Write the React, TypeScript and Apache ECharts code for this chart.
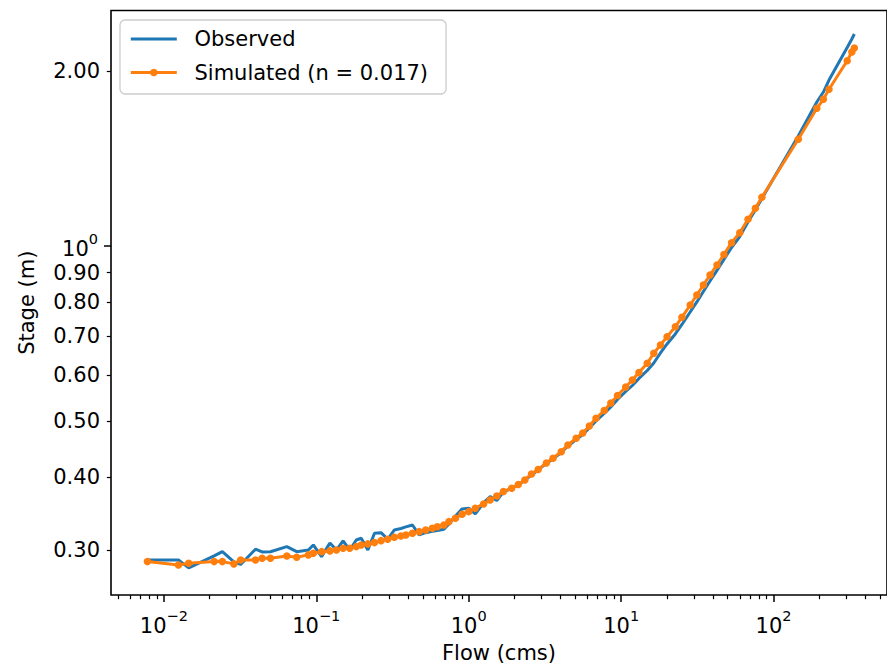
import React, { useEffect, useRef } from 'react';
import * as echarts from 'echarts';

// Flow (cms) — shared by observed and simulated rating curves
const flow = [
  0.0078, 0.01246, 0.01455, 0.02138, 0.0242, 0.0288, 0.0319, 0.0399, 0.0441, 0.05,
  0.0641, 0.0744, 0.0887, 0.0956, 0.1083, 0.1228, 0.1356, 0.1499, 0.1657, 0.1829,
  0.1971, 0.2179, 0.2409, 0.266, 0.2941, 0.3252, 0.3589, 0.3868, 0.4277, 0.4728,
  0.522, 0.5771, 0.6219, 0.6877, 0.7411, 0.8182, 0.9045, 1.0, 1.104, 1.252,
  1.382, 1.528, 1.69, 1.913, 2.115, 2.335, 2.582, 2.855, 3.232, 3.573,
  4.046, 4.474, 5.066, 5.601, 6.183, 6.837, 7.742, 8.557, 9.461, 10.71,
  11.85, 13.08, 14.83, 16.37, 18.1, 20.01, 22.66, 25.05, 28.37, 31.37,
  34.62, 38.28, 42.52, 47.22, 52.99, 60.01, 67.94, 75.92, 83.8, 145.2,
  192.2, 212.2, 231.0, 304.0, 326.1, 338.5,
];

// Observed stage (m)
const observedStage = [
  0.2883, 0.2883, 0.2793, 0.2929, 0.2979, 0.286, 0.2832, 0.3008, 0.2976, 0.2978,
  0.3039, 0.2979, 0.2999, 0.3059, 0.2921, 0.3084, 0.2999, 0.3108, 0.2999, 0.312,
  0.3142, 0.2999, 0.3205, 0.3212, 0.3129, 0.3246, 0.3266, 0.3286, 0.3311, 0.3183,
  0.3212, 0.3228, 0.324, 0.3255, 0.3325, 0.3432, 0.3529, 0.3539, 0.3459, 0.3614,
  0.3704, 0.3649, 0.3775, 0.3829, 0.3883, 0.3952, 0.4037, 0.4118, 0.4226, 0.4302,
  0.4413, 0.4528, 0.4646, 0.4739, 0.4863, 0.4999, 0.5151, 0.5286, 0.5444, 0.5619,
  0.5754, 0.5917, 0.6106, 0.629, 0.6545, 0.6783, 0.7057, 0.7328, 0.77, 0.8012,
  0.835, 0.8704, 0.9077, 0.948, 0.9941, 1.0383, 1.0997, 1.1531, 1.2072, 1.546,
  1.7689, 1.8404, 1.93, 2.1953, 2.2705, 2.3159,
];

// Simulated stage (m), n = 0.017
const simulatedStage = [
  0.2864, 0.2826, 0.2846, 0.2864, 0.2864, 0.2838, 0.2883, 0.2883, 0.2903, 0.2903,
  0.2929, 0.2914, 0.2941, 0.2961, 0.2979, 0.2988, 0.2999, 0.302, 0.302, 0.3039,
  0.3059, 0.3072, 0.3088, 0.3112, 0.3129, 0.3154, 0.317, 0.3183, 0.3205, 0.3225,
  0.3246, 0.3269, 0.3289, 0.3311, 0.3355, 0.3401, 0.3455, 0.3491, 0.3539, 0.3599,
  0.3656, 0.3715, 0.3779, 0.383, 0.3888, 0.3958, 0.4053, 0.4126, 0.4234, 0.4313,
  0.4427, 0.4547, 0.4669, 0.4768, 0.4901, 0.5054, 0.5212, 0.537, 0.5531, 0.572,
  0.5882, 0.6059, 0.6283, 0.6537, 0.6756, 0.6982, 0.7264, 0.7539, 0.7916, 0.8236,
  0.8569, 0.8913, 0.9276, 0.9669, 1.0132, 1.0541, 1.1115, 1.1609, 1.2129, 1.5259,
  1.7253, 1.7879, 1.8602, 2.0835, 2.1566, 2.191,
];

// Ticks
const xMajorTicks = [0.01, 0.1, 1, 10, 100];
const xMinorTicks = [
  0.005, 0.006, 0.007, 0.008, 0.009,
  0.02, 0.03, 0.04, 0.05, 0.06, 0.07, 0.08, 0.09,
  0.2, 0.3, 0.4, 0.5, 0.6, 0.7, 0.8, 0.9,
  2, 3, 4, 5, 6, 7, 8, 9,
  20, 30, 40, 50, 60, 70, 80, 90,
  200, 300, 400, 500,
];
const yMajorTicks = [1];
const yMinorTicks = [0.3, 0.4, 0.5, 0.6, 0.7, 0.8, 0.9, 2];

const X_MIN = 0.0045;
const X_MAX = 554.6;
const Y_MIN = 0.2509;
const Y_MAX = 2.542;

const seriesNames = ['Observed', 'Simulated (n = 0.017)'];

const FONT = 'DejaVu Sans';
const TEXT = '#000000';
const BLUE = '#1f77b4';
const ORANGE = '#ff7f0e';

const supLabel = (exp: number) =>
  `{b|10}{s|${exp < 0 ? '\u2212' + Math.abs(exp) : String(exp)}}`;

const richSup = {
  b: { fontFamily: FONT, fontSize: 21, color: TEXT, padding: [7, 0, 0, 0], verticalAlign: 'bottom' },
  s: { fontFamily: FONT, fontSize: 14.5, color: TEXT, verticalAlign: 'top' },
};

export default function App() {
  const ref = useRef<HTMLDivElement>(null);

  useEffect(() => {
    if (!ref.current) return;
    const chart = echarts.init(ref.current, undefined, { renderer: 'svg' });

    const obsData = flow.map((f, i) => [f, observedStage[i]]);
    const simData = flow.map((f, i) => [f, simulatedStage[i]]);

    const option: any = {
      animation: false,
      backgroundColor: '#ffffff',
      grid: {
        left: 111,
        top: 10.5,
        right: -6.5,
        bottom: 77,
        show: true,
        borderColor: '#000',
        borderWidth: 1.6,
        backgroundColor: 'transparent',
      },
      legend: {
        orient: 'vertical',
        left: 120,
        top: 20,
        itemWidth: 46,
        itemHeight: 9.5,
        itemGap: 8.5,
        padding: [6.5, 18, 9, 9.3],
        backgroundColor: 'rgba(255,255,255,0.8)',
        borderColor: '#cccccc',
        borderWidth: 1.3,
        borderRadius: 5,
        lineStyle: { width: 3 },
        textStyle: {
          fontFamily: FONT,
          fontSize: 21,
          color: TEXT,
          lineHeight: 25,
          padding: [0, 0, 0, 12.7],
        },
        data: [
          { name: seriesNames[0], itemStyle: { opacity: 0 } },
          { name: seriesNames[1] },
        ],
      },
      xAxis: [
        {
          type: 'log',
          logBase: 10,
          min: X_MIN,
          max: X_MAX,
          position: 'bottom',
          name: 'Flow (cms)',
          nameLocation: 'middle',
          nameGap: 47,
          nameTextStyle: { fontFamily: FONT, fontSize: 21, color: TEXT },
          axisLine: { show: false },
          splitLine: { show: false },
          axisTick: {
            show: true,
            customValues: xMajorTicks,
            length: 7,
            lineStyle: { color: '#000', width: 1.5 },
          },
          axisLabel: {
            customValues: xMajorTicks,
            margin: 13,
            formatter: (v: number) => supLabel(Math.round(Math.log10(v))),
            rich: richSup,
          },
        },
        {
          type: 'log',
          logBase: 10,
          min: X_MIN,
          max: X_MAX,
          position: 'bottom',
          offset: 0,
          axisLine: { show: false },
          splitLine: { show: false },
          axisTick: {
            show: true,
            customValues: xMinorTicks,
            length: 4.2,
            lineStyle: { color: '#000', width: 1.2 },
          },
          axisLabel: { show: false },
        },
      ],
      yAxis: [
        {
          type: 'log',
          logBase: 10,
          min: Y_MIN,
          max: Y_MAX,
          position: 'left',
          name: 'Stage (m)',
          nameLocation: 'middle',
          nameRotate: 90,
          nameGap: 74,
          nameTextStyle: { fontFamily: FONT, fontSize: 21, color: TEXT },
          axisLine: { show: false },
          splitLine: { show: false },
          axisTick: {
            show: true,
            customValues: yMajorTicks,
            length: 7,
            lineStyle: { color: '#000', width: 1.5 },
          },
          axisLabel: {
            customValues: yMajorTicks,
            margin: 13,
            formatter: (v: number) => supLabel(Math.round(Math.log10(v))),
            rich: richSup,
          },
        },
        {
          type: 'log',
          logBase: 10,
          min: Y_MIN,
          max: Y_MAX,
          position: 'left',
          offset: 0,
          axisLine: { show: false },
          splitLine: { show: false },
          axisTick: {
            show: true,
            customValues: yMinorTicks,
            length: 4.2,
            lineStyle: { color: '#000', width: 1.2 },
          },
          axisLabel: {
            customValues: yMinorTicks,
            margin: 11,
            fontFamily: FONT,
            fontSize: 21,
            color: TEXT,
            formatter: (v: number) => v.toFixed(2),
          },
        },
      ],
      series: [
        {
          name: seriesNames[0],
          type: 'line',
          xAxisIndex: 0,
          yAxisIndex: 0,
          data: obsData,
          symbol: 'none',
          lineStyle: { color: BLUE, width: 3 },
          itemStyle: { color: BLUE },
          z: 2,
        },
        {
          name: seriesNames[1],
          type: 'line',
          xAxisIndex: 0,
          yAxisIndex: 0,
          data: simData,
          symbol: 'circle',
          symbolSize: 7.5,
          showSymbol: true,
          lineStyle: { color: ORANGE, width: 3 },
          itemStyle: { color: ORANGE },
          z: 3,
        },
      ],
    };

    chart.setOption(option);
    return () => chart.dispose();
  }, []);

  return (
    <div
      ref={ref}
      style={{ position: 'absolute', left: 0, top: 0, width: 887, height: 672 }}
    />
  );
}
